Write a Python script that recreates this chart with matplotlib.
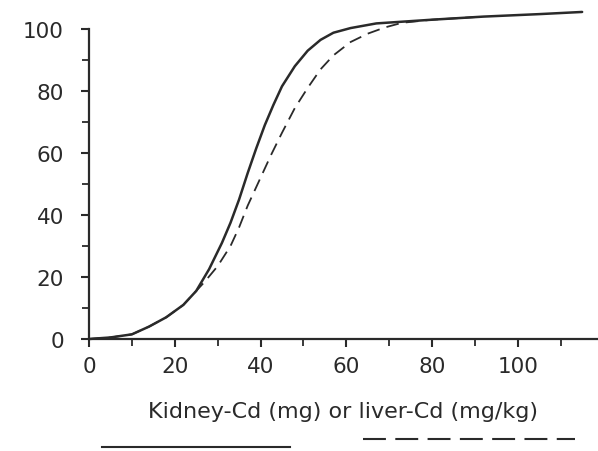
import matplotlib
matplotlib.use("Agg")
import matplotlib.pyplot as plt
from matplotlib.ticker import MultipleLocator
from matplotlib.lines import Line2D

# Solid curve (kidney-Cd, mg)
kidney_x = [0, 5, 10, 14, 18, 22, 25, 28, 31, 33, 35, 37, 39, 41, 43, 45, 48, 51, 54, 57, 61, 67, 80, 92, 105, 115]
kidney_y = [0, 0.5, 1.5, 4, 7, 11, 15.5, 22.5, 31, 37.5, 45, 53.5, 61.5, 69, 75.5, 81.5, 88, 93, 96.5, 98.8, 100.3, 101.8, 103, 104, 104.8, 105.5]

# Dashed curve (liver-Cd, mg/kg)
liver_x = [0, 5, 10, 14, 18, 22, 25, 27, 30, 33, 35, 37, 40, 42.5, 45, 48, 51, 54, 57, 61, 65, 69, 73, 80, 92]
liver_y = [0, 0.5, 1.5, 4, 7, 11, 15.5, 18.5, 23.5, 30, 36, 43, 52, 59.5, 66.5, 74.5, 81, 87, 91.5, 95.8, 98.5, 100.5, 102, 103, 104]

x_ticks = [0, 20, 40, 60, 80, 100]
y_ticks = [0, 20, 40, 60, 80, 100]
x_label = "Kidney-Cd (mg) or liver-Cd (mg/kg)"

ink = "#2a2a2a"
plt.rcParams['font.family'] = ['DejaVu Sans']

fig = plt.figure(figsize=(5.98, 4.52), dpi=100)
ax = fig.add_axes([89/598, 112/452, 509/598, 328.6/452])

ax.plot(kidney_x, kidney_y, color=ink, lw=1.8, solid_joinstyle='round', solid_capstyle='round', clip_on=False)
ax.plot(liver_x, liver_y, color=ink, lw=1.3, dashes=(7, 4), clip_on=False)

ax.set_xlim(0, 118.7)
ax.set_ylim(0, 106)
for s in ['top', 'right']:
    ax.spines[s].set_visible(False)
for s in ['left', 'bottom']:
    ax.spines[s].set_linewidth(1.6)
    ax.spines[s].set_color(ink)
ax.spines['left'].set_bounds(0, 100)

ax.set_xticks(x_ticks)
ax.set_yticks(y_ticks)
ax.xaxis.set_minor_locator(MultipleLocator(10))
ax.yaxis.set_minor_locator(MultipleLocator(10))
ax.tick_params(which='major', length=6, width=1.5, color=ink, labelsize=15.5, labelcolor=ink)
ax.tick_params(which='minor', length=5, width=1.3, color=ink)
ax.tick_params(axis='x', which='major', pad=6)
ax.tick_params(axis='y', which='major', pad=12)

ax.set_xlabel(x_label, fontsize=16, color=ink, labelpad=18)

# legend keys below the axis (solid and dashed)
fig.add_artist(Line2D([102/598, 290/598], [1 - 448/452, 1 - 448/452], color=ink, lw=1.5))
fig.add_artist(Line2D([363/598, 575/598], [1 - 440/452, 1 - 440/452], color=ink, lw=1.5, dashes=(11, 4.5)))

fig.savefig("out.png", dpi=100)
